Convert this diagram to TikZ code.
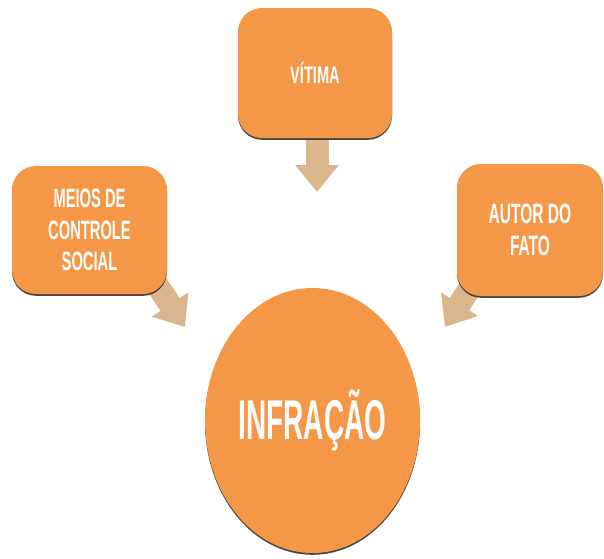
\documentclass[tikz,border=0pt]{standalone}
\usepackage{fontspec}
\newfontfamily\agencyV[FakeStretch=0.61]{Liberation Sans}
\newfontfamily\agencyS[FakeStretch=0.555]{Liberation Sans}
\newfontfamily\agencyB[FakeStretch=0.5]{Liberation Sans}
\usetikzlibrary{arrows.meta,shadows,calc,shapes.geometric,backgrounds}
\definecolor{boxor}{HTML}{F49848}
\definecolor{arrtan}{HTML}{DBB68C}
\begin{document}
\begin{tikzpicture}[x=1pt,y=-1pt,
  shad/.style={drop shadow={shadow xshift=0pt, shadow yshift=-1.8pt, fill=black!80, opacity=0.9}},
  box/.style={fill=boxor, rounded corners=24pt, shad, text=white, align=center, inner sep=0pt},
  oval/.style={ellipse, fill=boxor, shad, text=white, inner sep=0pt},
  blockarr/.style={draw=arrtan, line width=23pt, -{Triangle[width=42pt,length=27pt]}}
]
\useasboundingbox (0,0) rectangle (604,558);
% nodes
\node[box, minimum width=154pt, minimum height=130pt, font=\agencyV\bfseries\fontsize{24}{28}\selectfont] (vit) at (315,73) {VÍTIMA};
\node[box, minimum width=155pt, minimum height=128pt, font=\agencyS\bfseries\fontsize{26.5}{31.5}\selectfont] (meios) at (89.5,230) {MEIOS DE\\CONTROLE\\SOCIAL};
\node[box, minimum width=146pt, minimum height=132pt, font=\agencyS\bfseries\fontsize{28}{32}\selectfont] (autor) at (530,230) {AUTOR DO\\FATO};
\node[oval, minimum width=215pt, minimum height=265pt, font=\agencyB\bfseries\fontsize{56}{60}\selectfont] (inf) at (312.5,420.5) {INFRAÇÃO};
% connector ends
\coordinate (vs) at ($(vit.south)+(2,-8)$);
\coordinate (vtip) at (317,192);
\coordinate (ls) at ($(meios.south east)+(-16,-18)$);
\coordinate (ltip) at (185,327);
\coordinate (rs) at ($(autor.south west)+(18,-16)$);
\coordinate (rtip) at (445,327);
% arrows (behind boxes)
\begin{scope}[on background layer]
\draw[blockarr] (vs) -- (vtip);
\draw[blockarr] (ls) -- (ltip);
\draw[blockarr] (rs) -- (rtip);
\end{scope}
\end{tikzpicture}
\end{document}
